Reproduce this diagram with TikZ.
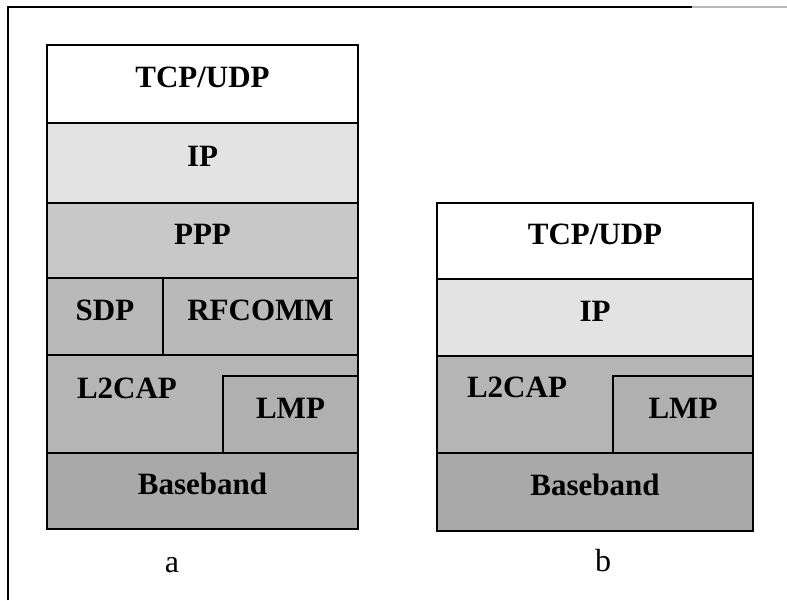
\documentclass[tikz,border=0pt]{standalone}
\usepackage{fontspec}
\setmainfont{Liberation Serif}
\definecolor{grisIP}{HTML}{E3E3E3}
\definecolor{grisPPP}{HTML}{C8C8C8}
\definecolor{grisSDP}{HTML}{B9B9B9}
\definecolor{grisLCAP}{HTML}{B5B5B5}
\definecolor{grisLMP}{HTML}{B0B0B0}
\definecolor{grisBase}{HTML}{A9A9A9}
\begin{document}
\begin{tikzpicture}[x=1pt,y=-1pt]
			% Styles (MODIFIABLES)
			\tikzstyle{cadre}=[line width=2pt]
			\tikzstyle{couche}=[draw,line width=1.8pt,inner sep=0pt,outer sep=0pt,anchor=north west,font=\fontsize{31}{36}\selectfont\bfseries,text height=21pt,text depth=14pt]
			\tikzstyle{titre}=[inner sep=0pt,font=\fontsize{31}{36}\selectfont\bfseries,text height=21pt,text depth=0pt]
			\tikzstyle{legende}=[inner sep=0pt,anchor=base,font=\fontsize{32}{36}\selectfont]
			% Dimensions (MODIFIABLES)
			\def\LargeurA{311}
			\def\LargeurB{316}
			%
			\useasboundingbox (0,0) rectangle (787,600);
			\draw[cadre] (8,600) -- (8,7) -- (692,7);
			\draw[cadre,gray!55] (692,7) -- (787,7);
			% Pile a
			\node[couche,fill=white,minimum width=\LargeurA,minimum height=78] (TCPa) at (47,45) {TCP/UDP};
			\node[couche,fill=grisIP,minimum width=\LargeurA,minimum height=80] (IPa) at (47,123) {IP};
			\node[couche,fill=grisPPP,minimum width=\LargeurA,minimum height=75] (PPPa) at (47,203) {PPP};
			\node[couche,fill=grisSDP,minimum width=116,minimum height=77] (SDPa) at (47,278) {SDP};
			\node[couche,fill=grisSDP,minimum width=195,minimum height=77] (RFCOMMa) at (163,278) {RFCOMM};
			\node[couche,fill=grisLCAP,minimum width=\LargeurA,minimum height=98] (L2CAPa) at (47,355) {};
			\node[titre] (L2CAPaT) at (127,388) {L2CAP};
			\node[couche,fill=grisLMP,minimum width=135,minimum height=77] (LMPa) at (223,376) {LMP};
			\node[couche,fill=grisBase,minimum width=\LargeurA,minimum height=76] (Basea) at (47,453) {Baseband};
			% Pile b
			\node[couche,fill=white,minimum width=\LargeurB,minimum height=76] (TCPb) at (437,203) {TCP/UDP};
			\node[couche,fill=grisIP,minimum width=\LargeurB,minimum height=77] (IPb) at (437,279) {IP};
			\node[couche,fill=grisLCAP,minimum width=\LargeurB,minimum height=97] (L2CAPb) at (437,356) {};
			\node[titre] (L2CAPbT) at (517,387) {L2CAP};
			\node[couche,fill=grisLMP,minimum width=140,minimum height=77] (LMPb) at (613,376) {LMP};
			\node[couche,fill=grisBase,minimum width=\LargeurB,minimum height=78] (Baseb) at (437,453) {Baseband};
			% Legendes
			\node[legende] (LegA) at (172,572) {a};
			\node[legende] (LegB) at (603,571) {b};
\end{tikzpicture}
\end{document}
